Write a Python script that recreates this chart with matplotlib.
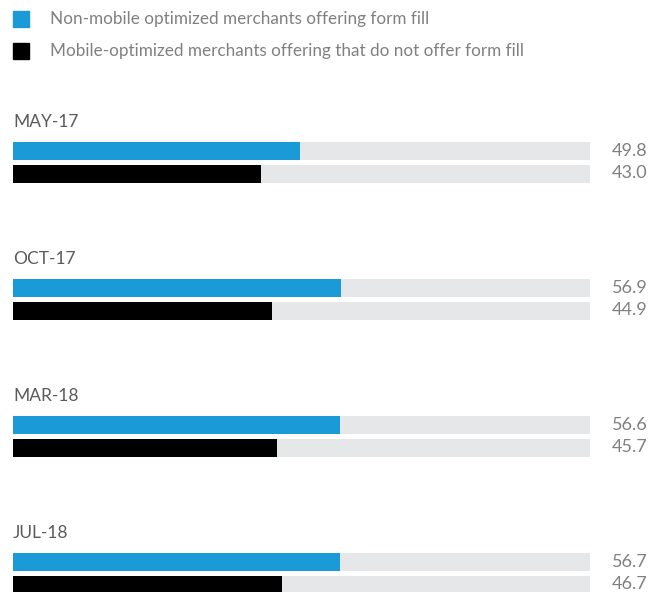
import matplotlib.pyplot as plt
from matplotlib.patches import Rectangle

periods = ["MAY-17", "OCT-17", "MAR-18", "JUL-18"]
non_mobile = [49.8, 56.9, 56.6, 56.7]
mobile_no_fill = [43.0, 44.9, 45.7, 46.7]
legend_labels = ["Non-mobile optimized merchants offering form fill",
                 "Mobile-optimized merchants offering that do not offer form fill"]

blue = "#1a9bd7"
track = "#e6e7e8"
grey = "#808080"

plt.rcParams['font.family'] = ['Lato', 'DejaVu Sans']

W, H = 663, 592
fig = plt.figure(figsize=(W / 100, H / 100), dpi=100)

# axes in pixel-ish coordinates vertically, 0..100 horizontally
ax = fig.add_axes([13 / W, 0, 577 / W, 1])
ax.set_xlim(0, 100)
ax.set_ylim(H, 0)
ax.axis("off")

gap = 137
for i, p in enumerate(periods):
    y0 = 151 + gap * i
    y1 = y0 + 23
    ax.barh([y0, y1], [100, 100], height=18, color=track, clip_on=False)
    ax.barh(y0, non_mobile[i], height=18, color=blue, clip_on=False)
    ax.barh(y1, mobile_no_fill[i], height=18, color="black", clip_on=False)
    ax.text(0, y0 - 29, p, fontsize=12.5, color="#5a5a5a", va="center", ha="left")
    ax.text(103.8, y0, f"{non_mobile[i]:.1f}", fontsize=13, color=grey, va="center", ha="left")
    ax.text(103.8, y1 - 1, f"{mobile_no_fill[i]:.1f}", fontsize=13, color=grey, va="center", ha="left")

# legend
for j, (lab, c) in enumerate(zip(legend_labels, [blue, "black"])):
    yc = 19 + 32 * j
    fig.patches.append(Rectangle((13 / W, 1 - (yc + 8) / H), 16 / W, 16 / H,
                                 transform=fig.transFigure, color=c))
    fig.text(50 / W, 1 - yc / H, lab, fontsize=12.3, color=grey, va="center", ha="left")

fig.savefig("out.png", dpi=100)
